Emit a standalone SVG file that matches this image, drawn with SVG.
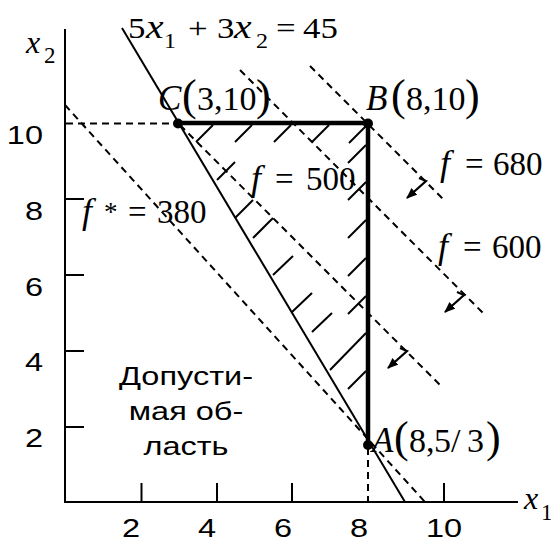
<svg xmlns="http://www.w3.org/2000/svg" width="551" height="543" viewBox="0 0 551 543">
<style>
.ln{stroke:#000;stroke-width:2;fill:none}
.thick{stroke:#000;stroke-width:4.5;fill:none}
.dash{stroke:#000;stroke-width:2;fill:none;stroke-dasharray:7,5}
.hatch{stroke:#000;stroke-width:2;fill:none}
.arr{stroke:#000;stroke-width:2.2;fill:none;marker-end:url(#ah)}
.sans{font-family:"Liberation Sans",Arial,sans-serif;font-size:26px;fill:#000}
.serif{font-family:"Liberation Serif","Times New Roman",serif;fill:#000}
.it{font-style:italic}
</style>
<defs>
<marker id="ah" viewBox="0 0 10 8" refX="9" refY="4" markerWidth="11" markerHeight="9" orient="auto" markerUnits="userSpaceOnUse"><path d="M0,0 L10,4 L0,8 z" fill="#000"/></marker>
</defs>
<rect width="551" height="543" fill="#fff"/>

<g id="axes">
<line class="ln" x1="65" y1="29" x2="65" y2="503"/>
<line class="ln" x1="64" y1="502" x2="518" y2="502"/>
<line class="ln" x1="65" y1="199" x2="84" y2="199"/>
<line class="ln" x1="65" y1="275" x2="84" y2="275"/>
<line class="ln" x1="65" y1="351" x2="84" y2="351"/>
<line class="ln" x1="65" y1="427" x2="84" y2="427"/>
<line class="ln" x1="141.5" y1="483" x2="141.5" y2="502"/>
<line class="ln" x1="217" y1="483" x2="217" y2="502"/>
<line class="ln" x1="292" y1="483" x2="292" y2="502"/>
<line class="ln" x1="444" y1="483" x2="444" y2="502"/>
<text class="sans" transform="translate(43,144) scale(1.25,1)" text-anchor="end">10</text>
<text class="sans" transform="translate(43,220) scale(1.25,1)" text-anchor="end">8</text>
<text class="sans" transform="translate(43,296) scale(1.25,1)" text-anchor="end">6</text>
<text class="sans" transform="translate(43,371) scale(1.25,1)" text-anchor="end">4</text>
<text class="sans" transform="translate(43,447) scale(1.25,1)" text-anchor="end">2</text>
<text class="sans" transform="translate(131,537) scale(1.25,1)" text-anchor="middle" font-size="25">2</text>
<text class="sans" transform="translate(207,537) scale(1.25,1)" text-anchor="middle" font-size="25">4</text>
<text class="sans" transform="translate(283,537) scale(1.25,1)" text-anchor="middle" font-size="25">6</text>
<text class="sans" transform="translate(359,537) scale(1.25,1)" text-anchor="middle" font-size="25">8</text>
<text class="sans" transform="translate(444,537) scale(1.25,1)" text-anchor="middle" font-size="25">10</text>
<text class="serif" font-size="32"><tspan class="it" x="26" y="53">x</tspan><tspan x="44" y="63" font-size="23">2</tspan></text>
<text class="serif" font-size="32"><tspan class="it" x="524" y="509">x</tspan><tspan x="541" y="520" font-size="23">1</tspan></text>
</g>

<g id="guides">
<line class="dash" x1="66" y1="123.5" x2="176" y2="123.5"/>
<line class="dash" x1="368" y1="448" x2="368" y2="502"/>
</g>

<g id="constraint">
<line class="ln" x1="122" y1="28" x2="405" y2="502"/>
<text class="serif" font-size="29" transform="scale(1.2,1)"><tspan x="106.7" y="38">5</tspan><tspan class="it" x="121.7" y="38" font-size="33">x</tspan><tspan x="136.7" y="48" font-size="20">1</tspan> <tspan x="156.7" y="38">+</tspan> <tspan x="180.8" y="38">3</tspan><tspan class="it" x="195" y="38" font-size="33">x</tspan><tspan x="213.3" y="48" font-size="20">2</tspan> <tspan x="230" y="38">=</tspan> <tspan x="252.5" y="38">45</tspan></text>
</g>

<g id="objective-lines">
<line class="dash" x1="65" y1="105" x2="425" y2="502"/>
<line class="dash" x1="180" y1="125" x2="443" y2="388"/>
<line class="dash" x1="240" y1="70" x2="483" y2="313"/>
<line class="dash" x1="310" y1="66" x2="443" y2="199"/>
<path class="arr" d="M419,178 L426,181 L407,198"/>
<path class="arr" d="M457,292 L464,295 L445,312"/>
<path class="arr" d="M400,348 L407,351 L388,368"/>
<text class="serif" font-size="33"><tspan class="it" x="82" y="223" font-size="36">f</tspan><tspan x="104" y="221" font-size="27">*</tspan> <tspan x="128" y="223">=</tspan> <tspan x="157" y="223">380</tspan></text>
<text class="serif" font-size="33"><tspan class="it" x="251" y="190" font-size="36">f</tspan> <tspan x="275" y="190">=</tspan> <tspan x="306" y="190">500</tspan></text>
<text class="serif" font-size="33"><tspan class="it" x="438" y="258" font-size="36">f</tspan> <tspan x="463" y="258">=</tspan> <tspan x="492" y="258">600</tspan></text>
<text class="serif" font-size="33"><tspan class="it" x="440" y="175" font-size="36">f</tspan> <tspan x="465" y="175">=</tspan> <tspan x="493" y="175">680</tspan></text>
</g>

<g id="feasible-region">
<line class="thick" x1="178" y1="123" x2="370" y2="123"/>
<line class="thick" x1="368" y1="121" x2="368" y2="445"/>
<g id="hatching">
<line class="hatch" x1="213" y1="125" x2="196" y2="142"/>
<line class="hatch" x1="252" y1="125" x2="235" y2="142"/>
<line class="hatch" x1="291" y1="125" x2="274" y2="142"/>
<line class="hatch" x1="329" y1="125" x2="312" y2="142"/>
<line class="hatch" x1="366" y1="126" x2="349" y2="143"/>
<line class="hatch" x1="366" y1="145" x2="348" y2="163"/>
<line class="hatch" x1="366" y1="182" x2="348" y2="200"/>
<line class="hatch" x1="366" y1="220" x2="348" y2="238"/>
<line class="hatch" x1="366" y1="258" x2="348" y2="276"/>
<line class="hatch" x1="366" y1="296" x2="348" y2="314"/>
<line class="hatch" x1="366" y1="333" x2="330" y2="370"/>
<line class="hatch" x1="366" y1="371" x2="348" y2="389"/>
<line class="hatch" x1="217" y1="180" x2="235" y2="162"/>
<line class="hatch" x1="235" y1="218" x2="253" y2="200"/>
<line class="hatch" x1="253" y1="238" x2="273" y2="218"/>
<line class="hatch" x1="273" y1="275" x2="293" y2="256"/>
<line class="hatch" x1="292" y1="312" x2="312" y2="293"/>
<line class="hatch" x1="312" y1="332" x2="332" y2="313"/>
</g>
<text class="sans" transform="translate(186,385) scale(1.25,1)" text-anchor="middle">Допусти-</text>
<text class="sans" transform="translate(186,420) scale(1.25,1)" text-anchor="middle">мая об-</text>
<text class="sans" transform="translate(186,455) scale(1.25,1)" text-anchor="middle">ласть</text>
</g>

<g id="point-C">
<circle cx="178" cy="123.5" r="5"/>
<text class="serif" font-size="34"><tspan class="it" x="158" y="110" font-size="35">C</tspan><tspan x="182" y="110" font-size="44">(</tspan><tspan x="197" y="110">3,10</tspan><tspan x="256" y="110" font-size="44">)</tspan></text>
</g>
<g id="point-B">
<circle cx="368" cy="123.5" r="5"/>
<text class="serif" font-size="34"><tspan class="it" x="366" y="110" font-size="35">B</tspan><tspan x="391" y="110" font-size="44">(</tspan><tspan x="406" y="110">8,10</tspan><tspan x="465" y="110" font-size="44">)</tspan></text>
</g>
<g id="point-A">
<circle cx="368" cy="445" r="5"/>
<text class="serif" font-size="34"><tspan class="it" x="372" y="452" font-size="35">A</tspan><tspan x="394" y="452" font-size="44">(</tspan><tspan x="409" y="452">8,</tspan><tspan x="434" y="452">5</tspan><tspan x="451" y="452">/</tspan><tspan x="467" y="452">3</tspan><tspan x="486" y="452" font-size="44">)</tspan></text>
</g>
</svg>
